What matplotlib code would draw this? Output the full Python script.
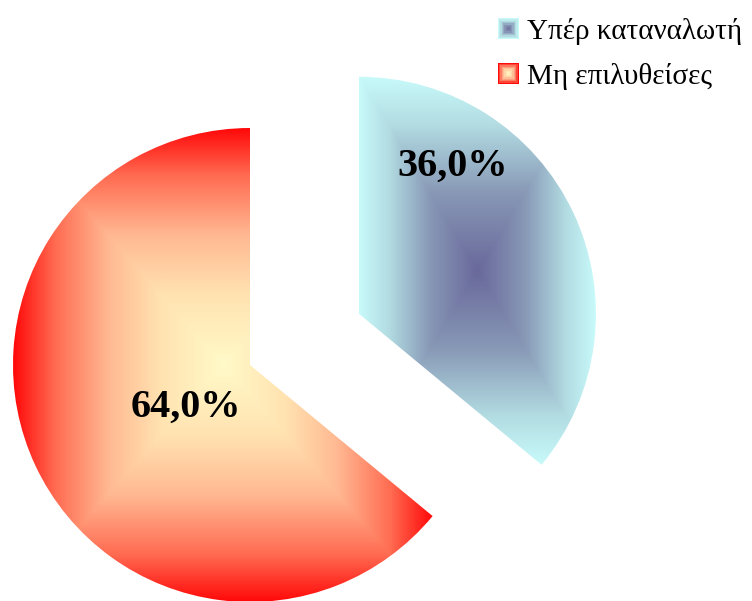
import numpy as np
import matplotlib
matplotlib.use("Agg")
import matplotlib.pyplot as plt
from matplotlib.colors import LinearSegmentedColormap
from matplotlib.patches import Rectangle
from matplotlib.legend_handler import HandlerBase

labels = ["Υπέρ καταναλωτή", "Μη επιλυθείσες"]
values = [36.0, 64.0]
explode = [0.508, 0.0]

# centre -> edge colours of the box gradients
blue_cmap = LinearSegmentedColormap.from_list(
    "blue_box", [(0, "#69699b"), (0.4, "#8898b6"), (0.75, "#b2dce2"), (1, "#c8fafa")])
red_cmap = LinearSegmentedColormap.from_list(
    "red_box", [(0, "#fffac8"), (0.3, "#ffe2b0"), (0.55, "#ffb892"), (0.8, "#ff6c52"), (1, "#ff0a0a")])
cmaps = [blue_cmap, red_cmap]

# label offsets from each wedge's tip, in radius units
label_offsets = [(0.394, 0.62), (-0.27, -0.18)]

plt.rcParams['font.family'] = ['Liberation Serif', 'DejaVu Serif']

W, H = 752, 601
fig = plt.figure(figsize=(W / 100, H / 100), dpi=100)
ax = fig.add_axes([0, 0, 1, 1])

radius = 237
center = (250, 236)

# pie() takes the explode distance in data units
wedges, texts, autotexts = ax.pie(
    values, explode=[e * radius for e in explode], startangle=90,
    counterclock=False, radius=radius, center=center,
    autopct=lambda p: f"{p:.1f}%".replace(".", ","),
    textprops=dict(fontsize=29, fontweight="bold", color="black"),
    wedgeprops=dict(linewidth=0))

ax.set_aspect("equal")
ax.axis("off")


def box_gradient(n=400):
    u = np.linspace(-1, 1, n)
    xx, yy = np.meshgrid(u, u)
    return np.maximum(np.abs(xx), np.abs(yy))


for w, cmap, off, t in zip(wedges, cmaps, label_offsets, autotexts):
    ext = w.get_path().get_extents()
    w.set_facecolor("none")
    img = ax.imshow(box_gradient(), cmap=cmap, vmin=0, vmax=1,
                    extent=(ext.x0, ext.x1, ext.y0, ext.y1),
                    origin="lower", interpolation="bilinear", zorder=1)
    img.set_clip_path(w)
    cx, cy = w.center
    t.set_position((cx + off[0] * radius, cy + off[1] * radius))
    t.set_zorder(3)

ax.set_xlim(0, W)
ax.set_ylim(0, H)


class BoxGradientHandler(HandlerBase):
    def __init__(self, cmap):
        super().__init__()
        self.cmap = cmap

    def create_artists(self, legend, orig_handle, xdescent, ydescent,
                       width, height, fontsize, trans):
        side = height * 0.95
        x0 = -xdescent + (width - side) / 2
        y0 = -ydescent + (height - side) / 2
        arts = []
        steps = 8
        for i in range(steps):
            f = 1 - i / steps
            s = side * f
            r = Rectangle((x0 + (side - s) / 2, y0 + (side - s) / 2), s, s,
                          facecolor=self.cmap(f), edgecolor="none",
                          transform=trans)
            arts.append(r)
        return arts


proxies = [Rectangle((0, 0), 1, 1) for _ in labels]
ax.legend(proxies, labels,
          handler_map={p: BoxGradientHandler(c) for p, c in zip(proxies, cmaps)},
          loc="upper left", bbox_to_anchor=(480 / W, 1.0),
          frameon=False, fontsize=21, handlelength=0.75, handleheight=0.8,
          handletextpad=0.25, labelspacing=0.6, borderaxespad=0.2)

fig.savefig("out.png", dpi=100)
